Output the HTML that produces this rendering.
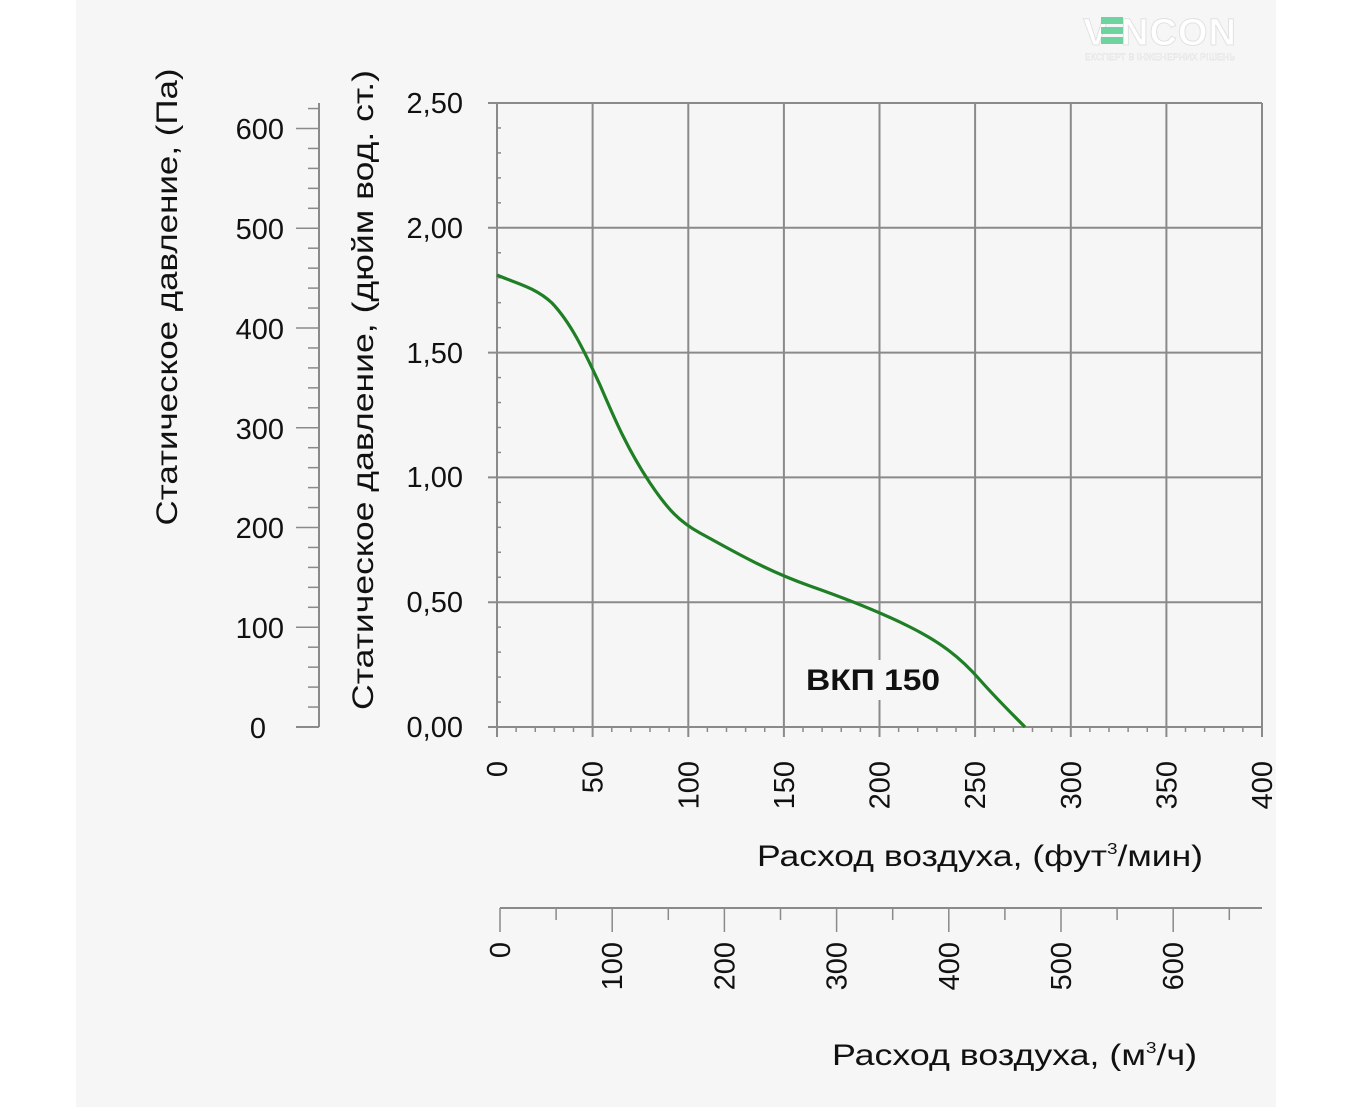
<!DOCTYPE html>
<html><head><meta charset="utf-8"><style>
html,body{margin:0;padding:0;background:#fff;}
svg{display:block;}
text{font-family:"Liberation Sans",sans-serif;fill:#111;}
</style></head><body>
<svg width="1353" height="1107" viewBox="0 0 1353 1107" xmlns="http://www.w3.org/2000/svg">
<rect x="76" y="0" width="1200" height="1107" fill="#f6f6f6"/>
<!-- logo -->
<text x="1160" y="45" font-size="38" font-weight="bold" fill="#fff" stroke="#e2e2e2" stroke-width="1" text-anchor="middle" letter-spacing="1" style="fill:#fff">V NCON</text>
<g fill="#6fd3a0"><rect x="1101" y="17" width="22" height="7"/><rect x="1101" y="27" width="22" height="7"/><rect x="1101" y="37" width="22" height="7"/></g>
<text x="1160" y="60" font-size="9" text-anchor="middle" style="fill:#fff" stroke="#ddd" stroke-width="0.4">ЕКСПЕРТ В ІНЖЕНЕРНИХ РІШЕНЬ</text>

<g stroke="#8a8a8a" stroke-width="2" fill="none">
<line x1="497" y1="103" x2="497" y2="737"/>
<line x1="592.6" y1="103" x2="592.6" y2="737"/>
<line x1="688.3" y1="103" x2="688.3" y2="737"/>
<line x1="783.9" y1="103" x2="783.9" y2="737"/>
<line x1="879.5" y1="103" x2="879.5" y2="737"/>
<line x1="975.1" y1="103" x2="975.1" y2="737"/>
<line x1="1070.8" y1="103" x2="1070.8" y2="737"/>
<line x1="1166.4" y1="103" x2="1166.4" y2="737"/>
<line x1="1262" y1="103" x2="1262" y2="737"/>
<line x1="488" y1="103" x2="1262" y2="103"/>
<line x1="488" y1="227.8" x2="1262" y2="227.8"/>
<line x1="488" y1="352.6" x2="1262" y2="352.6"/>
<line x1="488" y1="477.4" x2="1262" y2="477.4"/>
<line x1="488" y1="602.2" x2="1262" y2="602.2"/>
<line x1="488" y1="727" x2="1262" y2="727"/>
<line x1="319" y1="103" x2="319" y2="727"/>
<line x1="296" y1="727" x2="319" y2="727"/>
<line x1="500" y1="908" x2="1262" y2="908"/>
</g>
<g stroke="#8a8a8a" stroke-width="1.5" id="ticks"></g>
<rect x="800" y="660" width="145" height="40" fill="#f6f6f6"/>
<path d="M497,275 C515,283 535,287 552,303 C570,322 583,348 600,385 C615,420 628,450 650,483 C668,510 680,522 700,533 C735,552 765,570 810,586 C850,600 880,612 910,627 C940,642 960,657 980,680 C995,697 1010,712 1025,727" fill="none" stroke="#1f7f25" stroke-width="3.2"/>
<text x="806" y="690" font-size="30" font-weight="bold" textLength="134" lengthAdjust="spacingAndGlyphs">ВКП 150</text>

<g font-size="29" text-anchor="end">
<text x="463" y="113">2,50</text><text x="463" y="238">2,00</text><text x="463" y="363">1,50</text>
<text x="463" y="487">1,00</text><text x="463" y="612">0,50</text><text x="463" y="737">0,00</text>
<text x="284" y="139">600</text><text x="284" y="239">500</text><text x="284" y="339">400</text>
<text x="284" y="439">300</text><text x="284" y="538">200</text><text x="284" y="638">100</text><text x="266" y="738">0</text>
</g>
<g font-size="29" text-anchor="end" id="xl"></g>
<text transform="translate(177,297) rotate(-90)" font-size="30" text-anchor="middle" textLength="457" lengthAdjust="spacingAndGlyphs">Статическое давление, (Па)</text>
<text transform="translate(373,390) rotate(-90)" font-size="30" text-anchor="middle" textLength="640" lengthAdjust="spacingAndGlyphs">Статическое давление, (дюйм вод. ст.)</text>
<text x="757" y="866" font-size="30" textLength="446" lengthAdjust="spacingAndGlyphs">Расход воздуха, (фут<tspan font-size="16" dy="-12">3</tspan><tspan dy="12">/мин)</tspan></text>
<text x="832" y="1065" font-size="30" textLength="365" lengthAdjust="spacingAndGlyphs">Расход воздуха, (м<tspan font-size="16" dy="-12">3</tspan><tspan dy="12">/ч)</tspan></text>
</svg>
<script>
var ns="http://www.w3.org/2000/svg",g=document.getElementById("ticks"),xl=document.getElementById("xl");
function L(a,b,c,d){var l=document.createElementNS(ns,"line");l.setAttribute("x1",a);l.setAttribute("y1",b);l.setAttribute("x2",c);l.setAttribute("y2",d);g.appendChild(l);}
function T(x,y,s){var t=document.createElementNS(ns,"text");t.setAttribute("transform","translate("+(x+10)+","+y+") rotate(-90)");t.textContent=s;xl.appendChild(t);}
for(var i=0;i<=40;i++){if(i%5)L(497+i*19.125,727,497+i*19.125,732);}
for(var i=0;i<=25;i++){if(i%5)L(497,727-i*24.96,501,727-i*24.96);}
for(var i=0;i<=31;i++){var y=727-i*19.95;if(i%5)L(308,y,319,y);else L(296,y,319,y);}
for(var i=0;i<=13;i++){var x=500+i*56.1;if(x>1262)break;if(i%2)L(x,908,x,920);else L(x,908,x,932);}
for(var i=0;i<=8;i++)T(497+i*95.625,761,String(i*50));
for(var i=0;i<=6;i++)T(500+i*112.2,942,String(i*100));
</script>
</body></html>
